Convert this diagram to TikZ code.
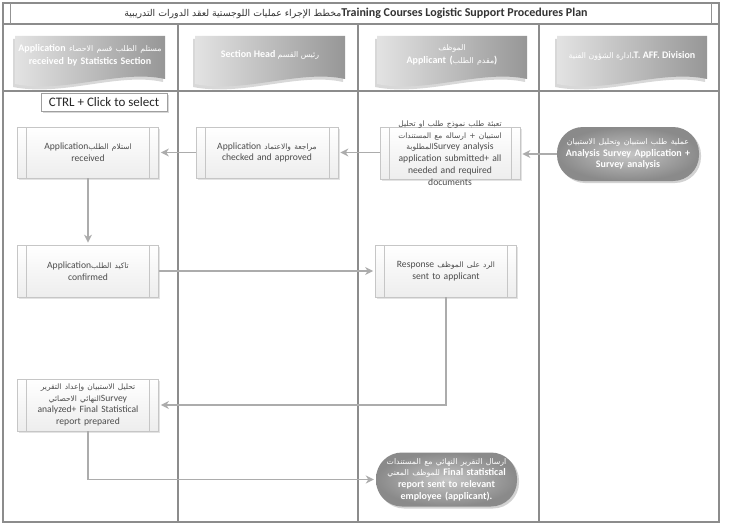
\documentclass[tikz,border=0pt]{standalone}
\usepackage{fontspec}
\setmainfont{Carlito}
\newfontfamily\arfont[Script=Arabic,Scale=0.78]{DejaVu Sans}
\TeXXeTstate=1
\newcommand\AR[1]{{\arfont\mdseries\beginR #1\endR}}
\usetikzlibrary{shadows,arrows.meta,calc}
\tikzset{
  frame/.style={draw=gray!90, line width=1.5pt},
  arr/.style={draw=gray!65, line width=1.6pt, -{Stealth[length=8pt,width=8pt,inset=2.5pt]}, shorten >=2pt},
  procbox/.style={draw=gray!45, line width=0.7pt, top color=white, bottom color=gray!14,
    drop shadow={opacity=0.22,shadow xshift=1.5pt,shadow yshift=-1.5pt},
    inner sep=0pt, text width=128pt, align=center, text=black!70, font=\fontsize{9.6}{11.7}\selectfont,
    path picture={\draw[gray!45, line width=0.7pt]
      ([xshift=9pt]path picture bounding box.north west) -- ([xshift=9pt]path picture bounding box.south west)
      ([xshift=-9pt]path picture bounding box.north east) -- ([xshift=-9pt]path picture bounding box.south east);}},
  boxtext/.style={text width=136pt, align=center, text=black!70, font=\fontsize{9.6}{11.7}\selectfont, inner sep=0pt},
  stadium/.style={rounded corners=26pt, inner color=gray!45, outer color=gray!92,
    drop shadow={opacity=0.35,shadow xshift=2pt,shadow yshift=-2pt},
    text width=140pt, align=center, text=white, font=\bfseries\fontsize{10}{11.7}\selectfont, inner sep=0pt},
  banner/.style={left color=gray!22, right color=gray!82,
    drop shadow={opacity=0.3,shadow xshift=-2pt,shadow yshift=-3pt}},
  bannertext/.style={text=white, font=\bfseries\fontsize{10}{13}\selectfont, inner sep=0pt},
}
\begin{document}
\begin{tikzpicture}[x=1pt,y=-1pt]
\useasboundingbox[fill=white] (0,0) rectangle (731,527);
% frame and lanes
\draw[frame] (3,3) rectangle (719,522);
\draw[frame] (3,24) -- (719,24);
\draw[frame] (3,91) -- (719,91);
\draw[frame] (178,24) -- (178,522);
\draw[frame] (358,24) -- (358,522);
\draw[frame] (539,24) -- (539,522);
\draw[gray!85, line width=1pt] (10,3) -- (10,24) (711,3) -- (711,24);
% title
\node[text=black!80, font=\fontsize{12}{13}\selectfont, inner sep=0pt] (title) at (356,13.5)
  {\AR{مخطط الإجراء عمليات اللوجستية لعقد الدورات التدريبية}\textbf{Training Courses Logistic Support Procedures Plan}};
% banners
\foreach \x in {15,195,377,557}{
  \path[banner] (\x,36) -- (\x+150,36) -- (\x+150,79) .. controls (\x+105,69) and (\x+50,94) .. (\x,84) -- cycle;
}
\node[bannertext, text width=160pt, align=center] (h1) at (90,55.5) {Application \AR{مستلم الطلب قسم الاحصاء}\\received by Statistics Section};
\node[bannertext] (h2) at (270,55) {Section Head \AR{رئيس القسم}};
\node[bannertext, text width=140pt, align=center] (h3) at (452,55) {\AR{الموظف}\\Applicant (\AR{مقدم الطلب})};
\node[bannertext] (h4) at (632,56) {\AR{ادارة الشؤون الفنية}.T. AFF. Division};
% tooltip
\node[draw=gray!75, fill=white, line width=0.6pt, minimum width=126pt, minimum height=18pt, inner sep=0pt,
  drop shadow={opacity=0.3,shadow xshift=2pt,shadow yshift=-2pt},
  text=black!85, font=\fontsize{13}{14}\selectfont] (tip) at (104,102) {CTRL + Click to select};
% process nodes
\node[stadium, minimum width=142pt, minimum height=54pt] (n4) at (628,154)
  {\AR{عملية طلب استبيان وتحليل الاستبيان}\\Analysis Survey Application +\\Survey analysis};
\node[procbox, minimum width=140pt, minimum height=52pt] (bA) at (450,153) {};
\node[boxtext] (bAt) at (bA.center)
  {\AR{تعبئة طلب نموذج طلب او تحليل}\\\AR{استبيان + ارساله مع المستندات}\\\AR{المطلوبة}Survey analysis\\application submitted+ all\\needed and required\\documents};
\node[procbox, minimum width=142pt, minimum height=51pt] (b2) at (267,152.5)
  {Application \AR{مراجعة والاعتماد}\\checked and approved};
\node[procbox, minimum width=141pt, minimum height=51pt] (b1) at (88,152.5)
  {Application\AR{استلام الطلب}\\received};
\node[procbox, minimum width=141pt, minimum height=52pt] (b1b) at (88,271)
  {Application\AR{تاكيد الطلب}\\confirmed};
\node[procbox, minimum width=141pt, minimum height=52pt] (b3b) at (446,271)
  {Response \AR{الرد على الموظف}\\sent to applicant};
\node[procbox, minimum width=141pt, minimum height=52pt] (b1c) at (88,405) {};
\node[boxtext] (b1ct) at (b1c.center)
  {\AR{تحليل الاستبيان وإعداد التقرير}\\\AR{النهائي الاحصائي}Survey\\analyzed+ Final Statistical\\report prepared};
\node[stadium, minimum width=141pt, minimum height=54pt] (nF) at (446.5,479.5)
  {\AR{ارسال التقرير النهائي مع المستندات}\\\AR{للموظف المعني} Final statistical\\report sent to relevant\\employee (applicant).};
% connectors
\draw[arr] (n4.west) -- (n4.west -| bA.east);
\draw[arr] (bA.west |- b2.east) -- (b2.east);
\draw[arr] (b2.west) -- (b1.east);
\draw[arr] (b1.south) -- (b1b.north);
\draw[arr] (b1b.east) -- (b3b.west);
\draw[arr] (b3b.south) |- (b1c.east);
\draw[arr] (b1c.south) |- (nF.west);
\end{tikzpicture}
\end{document}
